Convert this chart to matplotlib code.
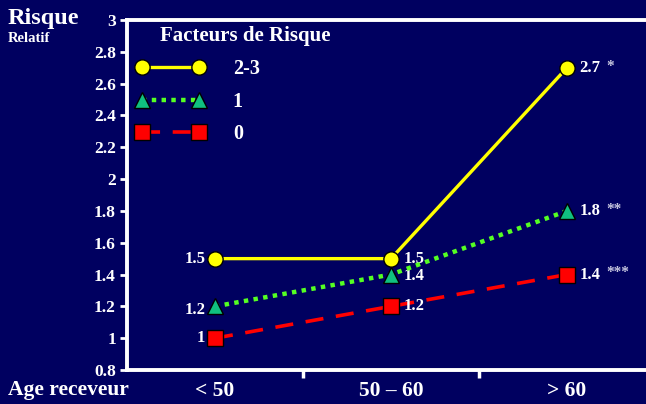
import matplotlib.pyplot as plt
from matplotlib.ticker import FixedLocator

# Risque relatif selon l'age du receveur et le nombre de facteurs de risque
categories = ["< 50", "50 \u2013 60", "> 60"]
risk_23 = [1.5, 1.5, 2.7]
risk_1 = [1.2, 1.4, 1.8]
risk_0 = [1.0, 1.2, 1.4]
labels_23 = ["1.5", "1.5", "2.7"]
labels_1 = ["1.2", "1.4", "1.8"]
labels_0 = ["1", "1.2", "1.4"]
stars = ["", "*", "**", "***"]
yticks = [0.8, 1, 1.2, 1.4, 1.6, 1.8, 2, 2.2, 2.4, 2.6, 2.8, 3]

bg = "#000060"
plt.rcParams["font.family"] = ["Liberation Serif", "DejaVu Serif"]
plt.rcParams["font.weight"] = "bold"

fig = plt.figure(figsize=(6.46, 4.04), dpi=100, facecolor=bg)
ax = fig.add_axes([0.1966, 0.0842, 0.8173, 0.8663], facecolor=bg)

x = list(range(len(categories)))
ax.plot(x, risk_23, color="#ffff00", lw=2.4, marker="o", ms=11,
        mfc="#ffff00", mec="black", mew=1, label="2-3", zorder=5)
ax.plot(x, risk_1, color="#55ff22", lw=3.2, ls=(0, (1, 1.2)), marker="^", ms=11,
        mfc="#10c080", mec="black", mew=1, label="1", zorder=4)
ax.plot(x, risk_0, color="#ff0000", lw=2.6, ls=(0, (5, 3.5)), marker="s", ms=11,
        mfc="#ff0000", mec="black", mew=1, label="0", zorder=3)

ax.set_xlim(-0.5, 2.5)
ax.set_ylim(0.8, 3)

# value labels: first point labelled on the left, the others on the right
txt = dict(color="white", fontsize=12, fontweight="bold", va="center")
def label_series(vals, labels, dy=(0, 0, 0), star=""):
    ax.text(x[0] - 0.055, vals[0] + dy[0], labels[0], ha="right", **txt)
    ax.text(x[1] + 0.07, vals[1] + dy[1], labels[1], ha="left", **txt)
    ax.text(x[2] + 0.07, vals[2] + dy[2], labels[2], ha="left", **txt)
    ax.text(x[2] + 0.225, vals[2] + 0.01, star, ha="left", color="#c8c8e0",
            fontsize=11, fontweight="bold", va="center")

label_series(risk_23, labels_23, star=stars[1])
label_series(risk_1, labels_1, dy=(-0.025, -0.01, 0), star=stars[2])
label_series(risk_0, labels_0, star=stars[3])

# axes styling
for side in ["left", "bottom", "top", "right"]:
    ax.spines[side].set_color("white")
    ax.spines[side].set_linewidth(2.8)
ax.set_yticks(yticks)
ax.set_yticklabels([f"{v:g}" for v in yticks])
ax.tick_params(axis="y", colors="white", width=2, length=5, labelsize=12.5, pad=3)
ax.set_xticks(x)
ax.set_xticklabels(categories)
ax.xaxis.set_minor_locator(FixedLocator([0.5, 1.5]))
ax.tick_params(axis="x", which="major", length=0, colors="white", labelsize=15.5, pad=8)
ax.tick_params(axis="x", which="minor", length=6, width=2.5, color="white")
for lab in ax.get_xticklabels() + ax.get_yticklabels():
    lab.set_fontweight("bold")

fig.text(0.012, 0.955, "Risque", color="white", fontsize=17.5, fontweight="bold", va="center")
fig.text(0.012, 0.905, "Relatif", color="white", fontsize=10.5, fontweight="bold", va="center")
fig.text(0.012, 0.035, "Age receveur", color="white", fontsize=15.5, fontweight="bold", va="center")

# legend title drawn separately so it sits indented over the entries
fig.text(160 / 646, 1 - 36 / 404, "Facteurs de Risque", color="white", fontsize=15,
         fontweight="bold", va="center", ha="left")
leg = ax.legend(loc="upper left", bbox_to_anchor=(-0.017, 0.94),
                frameon=False, numpoints=2, handlelength=3.4, handletextpad=1.4,
                labelspacing=0.62, fontsize=14.5, labelcolor="white")
for t in leg.get_texts():
    t.set_fontweight("bold")

fig.savefig("out.png", dpi=100, facecolor=bg)
